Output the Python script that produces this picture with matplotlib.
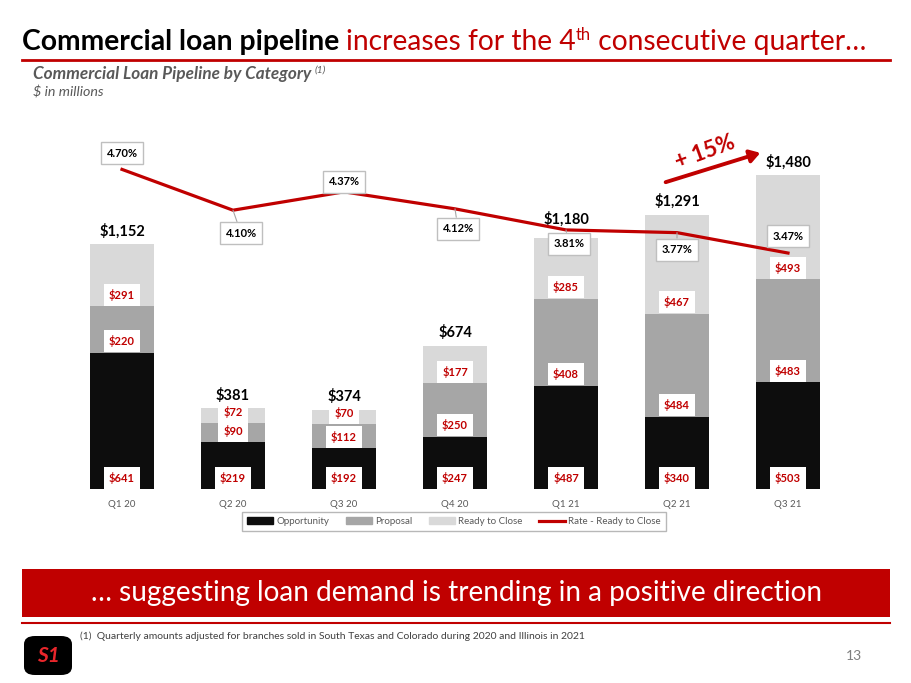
import matplotlib
matplotlib.use("Agg")
import matplotlib.pyplot as plt
from matplotlib.patches import Rectangle, FancyBboxPatch, FancyArrowPatch
from matplotlib.lines import Line2D
import numpy as np

# ---------------- data ----------------
quarters = ['Q1 20', 'Q2 20', 'Q3 20', 'Q4 20', 'Q1 21', 'Q2 21', 'Q3 21']
opportunity = [641, 219, 192, 247, 487, 340, 503]
proposal = [220, 90, 112, 250, 408, 484, 483]
ready_to_close = [291, 72, 70, 177, 285, 467, 493]
totals = [1152, 381, 374, 674, 1180, 1291, 1480]
rate_ready = [4.70, 4.10, 4.37, 4.12, 3.81, 3.77, 3.47]
series_names = ['Opportunity', 'Proposal', 'Ready to Close', 'Rate - Ready to Close']

RED = '#C00000'
C_OPP = '#0D0D0D'
C_PROP = '#A6A6A6'
C_READY = '#D9D9D9'
GRAY = '#595959'
FONT = ['Lato', 'DejaVu Sans']

plt.rcParams['font.family'] = FONT

W, H = 911, 683
fig = plt.figure(figsize=(W / 100, H / 100), dpi=100)
fig.patch.set_facecolor('white')


def fx(x):
    return x / W


def fy(y):
    return 1 - y / H


renderer = fig.canvas.get_renderer()


def seq_text(x, y, parts, **common):
    """Draw text pieces one after another on a baseline (pixel coords)."""
    cur = x
    for s, kw in parts:
        opts = dict(common)
        opts.update(kw)
        dy = opts.pop('dy', 0)
        t = fig.text(fx(cur), fy(y - dy), s, va='baseline', ha='left', **opts)
        bb = t.get_window_extent(renderer)
        cur = bb.x1
    return cur


# ---------------- header ----------------
seq_text(22, 50, [
    ('Commercial loan pipeline ', dict(color='black', fontweight='bold')),
    ('increases for the 4', dict(color=RED)),
    ('th', dict(color=RED, fontsize=12, dy=10)),
    (' consecutive quarter…', dict(color=RED)),
], fontsize=20.3)
fig.add_artist(Line2D([fx(22), fx(890)], [fy(60), fy(60)], color=RED, lw=2))

seq_text(33, 79, [
    ('Commercial Loan Pipeline by Category ', dict(fontweight='bold', style='italic')),
    ('(1)', dict(fontsize=7.5, style='italic', dy=6)),
], fontsize=12.3, color=GRAY)
fig.text(fx(33), fy(97), '$ in millions', fontsize=10.3, style='italic', color=GRAY, va='baseline')

# ---------------- chart ----------------
ax = fig.add_axes([fx(66.5), fy(489), fx(843.5) - fx(66.5), fy(149) - fy(489)])
x = np.arange(len(quarters))
bw = 0.57
opp = np.array(opportunity)
prop = np.array(proposal)
ready = np.array(ready_to_close)

ax.bar(x, opp, bw, color=C_OPP, label=series_names[0])
ax.bar(x, prop, bw, bottom=opp, color=C_PROP, label=series_names[1])
ax.bar(x, ready, bw, bottom=opp + prop, color=C_READY, label=series_names[2])
ax.set_xlim(-0.5, len(quarters) - 0.5)
ax.set_ylim(0, 1600)
for s in ax.spines.values():
    s.set_visible(False)
ax.set_yticks([])
ax.set_xticks(x)
ax.set_xticklabels(quarters, fontsize=7, color=GRAY)
ax.tick_params(axis='x', length=0, pad=8)

seg_box = dict(boxstyle='square,pad=0.45', fc='white', ec='none')
for i in range(len(quarters)):
    for base, val in ((0, opp[i]), (opp[i], prop[i]), (opp[i] + prop[i], ready[i])):
        ax.annotate(f'${val:,}', (x[i], base), xytext=(0, 11.5), textcoords='offset pixels',
                    ha='center', va='center', fontsize=8, fontweight='bold', color=RED,
                    bbox=seg_box)
    extra = 6 if i == 4 else 0
    ax.annotate(f'${totals[i]:,}', (x[i], opp[i] + prop[i] + ready[i]), xytext=(0, 13 + extra),
                textcoords='offset pixels', ha='center', va='center', fontsize=10.5,
                fontweight='bold', color='black')

ax2 = ax.twinx()
ax2.set_ylim(0, 5.0)
for s in ax2.spines.values():
    s.set_visible(False)
ax2.set_yticks([])
ax2.plot(x, rate_ready, color=RED, lw=2.3, label=series_names[3])

rate_offsets = [(0, 16), (8, -23), (0, 10), (3, -20), (3, -14), (0, -17), (0, 17)]
rate_box = dict(boxstyle='square,pad=0.5', fc='white', ec='#BFBFBF', lw=1)
for i, r in enumerate(rate_ready):
    dx, dy = rate_offsets[i]
    ax2.annotate(f'{r:.2f}%', (x[i], r), xytext=(dx, dy), textcoords='offset pixels',
                 ha='center', va='center', fontsize=8, fontweight='bold', color='black',
                 bbox=rate_box,
                 arrowprops=dict(arrowstyle='-', color='#A6A6A6', lw=0.8, shrinkA=0, shrinkB=0)
                 if dy < 0 else None)

# growth arrow
fig.add_artist(FancyArrowPatch((fx(663), fy(183)), (fx(763), fy(152)),
                               transform=fig.transFigure,
                               arrowstyle='-|>,head_length=4,head_width=2.5',
                               color=RED, lw=2.8, mutation_scale=1.5))
fig.text(fx(705), fy(152), '+ 15%', fontsize=16, fontweight='bold', color=RED,
         rotation=20, ha='center', va='center')

# legend
handles = [Rectangle((0, 0), 1, 1, color=C_OPP), Rectangle((0, 0), 1, 1, color=C_PROP),
           Rectangle((0, 0), 1, 1, color=C_READY), Line2D([0], [0], color=RED, lw=2.3)]
leg = fig.legend(handles, series_names, loc='center', bbox_to_anchor=(fx(454), fy(521.5)),
                 ncol=4, fontsize=7, frameon=True, fancybox=False, edgecolor='#A6A6A6',
                 handlelength=2.67, handleheight=0.6, columnspacing=1.75, handletextpad=0.3,
                 borderpad=0.5, borderaxespad=0)
leg.get_frame().set_linewidth(1)
for t in leg.get_texts():
    t.set_color(GRAY)

# ---------------- footer ----------------
fig.add_artist(Rectangle((fx(22), fy(617)), fx(890) - fx(22), fy(569) - fy(617),
                         transform=fig.transFigure, color=RED, lw=0))
fig.text(fx(456), fy(593), '… suggesting loan demand is trending in a positive direction',
         fontsize=20.2, color='white', ha='center', va='center')
fig.add_artist(Line2D([fx(22), fx(890)], [fy(623), fy(623)], color=RED, lw=1.5))
fig.text(fx(80), fy(636), '(1)  Quarterly amounts adjusted for branches sold in South Texas and Colorado during 2020 and Illinois in 2021',
         fontsize=7.5, color='#404040', va='center')
fig.text(fx(862), fy(656), '13', fontsize=10, color='#7F7F7F', ha='right', va='center')

# logo
fig.add_artist(FancyBboxPatch((fx(24), fy(675)), fx(72) - fx(24), fy(636) - fy(675),
                              boxstyle='round,pad=0,rounding_size=0.012',
                              transform=fig.transFigure, fc='black', ec='none'))
fig.text(fx(48), fy(656), 'S1', fontsize=15, fontweight='bold', style='italic', color='#E8262B',
         ha='center', va='center')

fig.savefig('out.png', dpi=100)
